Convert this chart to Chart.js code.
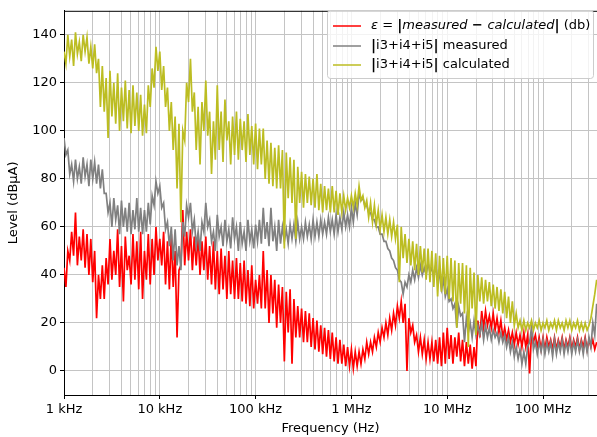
<!DOCTYPE html>
<html>
<head>
<meta charset="utf-8">
<script src="https://cdn.jsdelivr.net/npm/chart.js@4"></script>
<style>
  html, body { margin: 0; padding: 0; background: #fff; }
  canvas { display: block; }
</style>
</head>
<body>
<canvas id="levelChart" width="597" height="437"></canvas>
<script>
// частоты: декады x мантиссы (шаг 0.04 по log10, плюс промежуточные точки)
const decadeStarts = [1e3, 1e4, 1e5, 1e6, 1e7, 1e8];
const mantissas = [1.000, 1.096, 1.202, 1.318, 1.445, 1.585, 1.738, 1.905, 2.089, 2.291,
                   2.512, 2.754, 3.020, 3.311, 3.631, 3.981, 4.365, 4.786, 5.248, 5.754,
                   6.310, 6.918, 7.586, 8.318, 9.120];
const mantissasHalf = [1.047, 1.148, 1.259, 1.380, 1.514, 1.660, 1.820, 1.995, 2.188, 2.399,
                       2.630, 2.884, 3.162, 3.467, 3.802, 4.169, 4.571, 5.012, 5.495, 6.026,
                       6.607, 7.244, 7.943, 8.710, 9.550];
const xMax = 3.66e8;

const decadeLabels = ['1 kHz', '10 kHz', '100 kHz', '1 MHz', '10 MHz', '100 MHz'];

// |i3+i4+i5| calculated: верхние и нижние точки шума
const calcHi = [
    133, 140, 138, 141, 137, 140, 139, 135, 136, 130,
    127, 122, 125, 120, 124, 118, 121, 117, 119, 116,
    115, 111, 119, 126, 135, 133, 127, 118, 112, 106,
    103, 100, 120, 130, 116, 110, 112, 121, 108, 104,
    119, 108, 113, 104, 106, 108, 105, 104, 107, 102,
    103, 101, 101,  96,  95,  93,  94,  92,  91,  89,
     88,  85,  83,  82,  81,  80,  82,  78,  77,  76,
     77,  75,  74,  73,  72,  73,  74,  77,  73,  71,
     70,  69,  67,  65,  64,  63,  62,  61,  60,  57,
     55,  54,  53,  52,  51,  51,  50,  49,  48,  47,
     48,  47,  46,  45,  45,  44,  43,  41,  40,  39,
     38,  37,  36,  35,  34,  33,  31,  29,  24,  21,
     21,  20,  21,  20,  21,  20,  21,  20,  21,  21,
     20,  21,  21,  20,  21,  20,  20,  19,  27,  38
];
const calcLo = [
    128, 131, 127, 132, 129, 133, 128, 126, 124, 110,
    108,  97, 106, 103, 100, 104, 101,  99, 102, 100,
     98,  99, 110, 118, 125, 117, 110, 100,  92,  76,
     62,  96, 112, 108,  92,  86, 100,  98,  82,  88,
     92,  87,  96,  86,  90,  88,  92,  87,  90,  86,
     84,  86,  80,  78,  77,  76,  76,  51,  72,  70,
     55,  70,  68,  70,  69,  68,  67,  66,  67,  66,
     66,  65,  66,  67,  68,  68,  69,  71,  68,  64,
     62,  61,  59,  58,  57,  56,  55,  37,  47,  45,
     44,  42,  40,  41,  38,  37,  35,  31,  33,  32,
     30,  29,  18,  28,  24,  10,  26,  15,  29,  28,
     29,  27,  26,  25,  24,  22,  20,  19,  18,  17,
     17,  18,  17,  18,  17,  18,  17,  18,  17,  18,
     17,  18,  17,  18,  17,  17,  17,  22,  32
];

// |i3+i4+i5| measured
const measHi = [
     97,  92,  86,  88,  85,  89,  86,  88,  87,  86,
     84,  74,  70,  72,  69,  71,  68,  70,  67,  72,
     68,  67,  70,  73,  79,  77,  70,  62,  60,  59,
     52,  62,  69,  70,  63,  58,  62,  70,  63,  58,
     65,  60,  63,  59,  64,  60,  62,  58,  63,  59,
     61,  63,  68,  62,  68,  60,  63,  60,  59,  61,
     61,  62,  60,  62,  61,  63,  62,  63,  62,  64,
     63,  65,  64,  66,  65,  68,  70,  74,  72,  69,
     66,  63,  60,  57,  54,  50,  46,  42,  37,  37,
     40,  42,  43,  44,  43,  45,  43,  44,  40,  38,
     34,  30,  28,  27,  24,  22,  20,  21,  19,  20,
     19,  18,  17,  16,  16,  15,  14,  12,  10,   9,
      8,  10,  18,  12,  12,  13,  12,  12,  13,  12,
     13,  12,  13,  12,  13,  12,  13,  14,  20,  28
];
const measLo = [
     90,  82,  79,  80,  78,  81,  77,  80,  78,  76,
     74,  66,  60,  63,  57,  60,  58,  57,  59,  58,
     57,  58,  61,  69,  74,  68,  59,  52,  46,  44,
     42,  56,  64,  58,  52,  50,  58,  60,  54,  50,
     56,  52,  54,  51,  55,  50,  53,  50,  54,  51,
     54,  53,  55,  52,  54,  50,  53,  54,  53,  55,
     54,  55,  55,  56,  55,  56,  56,  57,  57,  58,
     57,  58,  59,  60,  60,  62,  65,  71,  69,  66,
     63,  60,  57,  54,  51,  47,  43,  38,  32,  35,
     37,  38,  39,  40,  40,  41,  39,  38,  34,  31,
     29,  26,  18,  23,  12,  16,  14,  15,  15,  13,
     14,  13,  14,  12,  12,  10,   8,   6,   5,   3,
      3,  12,   9,   7,   8,   7,   8,   6,   7,   8,
      7,   8,   7,   8,   8,   7,   8,  10,  15
];

// ε = |measured - calculated|
const epsHi = [
     43,  50,  58,  66,  56,  59,  57,  55,  50,  40,
     44,  47,  55,  50,  59,  52,  56,  48,  57,  54,
     58,  50,  57,  55,  60,  55,  58,  54,  57,  50,
     42,  67,  58,  59,  56,  57,  54,  56,  52,  54,
     50,  51,  48,  50,  46,  47,  45,  46,  42,  44,
     38,  40,  50,  42,  40,  38,  36,  35,  33,  34,
     30,  27,  26,  25,  24,  22,  21,  19,  18,  17,
     16,  14,  13,  11,  10,   9,   8,   8,   9,  12,
     12,  14,  16,  18,  20,  22,  24,  27,  29,  28,
     22,  19,  15,  14,  13,  12,  12,  13,  14,  16,
     18,  15,  14,  16,  13,  12,  11,  10,  21,  25,
     25,  23,  24,  22,  21,  18,  17,  16,  16,  15,
     16,  15,  16,  15,  14,  14,  14,  13,  14,  13,
     14,  13,  14,  13,  14,  13,  14,  13,  13,  12
];
const epsLo = [
     35,  46,  48,  44,  46,  43,  40,  37,  22,  30,
     30,  36,  38,  40,  35,  29,  42,  36,  38,  34,
     30,  38,  36,  40,  46,  44,  36,  34,  35,  14,
     44,  44,  46,  42,  44,  40,  42,  38,  36,  34,
     32,  34,  30,  32,  30,  30,  29,  28,  27,  26,
     28,  26,  26,  20,  24,  18,  20,   4,  16,   3,
     14,  14,  12,  12,  10,   9,   8,   7,   6,   5,
      4,   3,   3,   2,   2,   1,   2,   3,   5,   7,
      8,  10,  12,  14,  15,  17,  19,  22,  20,   0,
     16,  12,   8,   7,   5,   5,   4,   3,   2,   3,
      5,   3,   6,   4,   2,   3,   1,   2,  14,  18,
     19,  18,  17,  16,  14,  13,  12,  11,  11,  10,
     10,  -1,  12,  10,   9,   9,  10,   9,   9,  10,
      9,  10,   9,  10,   9,  10,   9,  10,   9
];

const yTicks = [0, 20, 40, 60, 80, 100, 120, 140];

// таблицы частот
const freqs = [];
const freqsHalf = [];
decadeStarts.forEach(d => {
    mantissas.forEach(m => { if (freqs.length < calcHi.length) freqs.push(d * m); });
    mantissasHalf.forEach(m => { if (freqsHalf.length < calcLo.length) freqsHalf.push(d * m); });
});

const xTicks = [];
decadeStarts.forEach(d => {
    for (let k = 1; k <= 9; k++) if (d * k <= xMax) xTicks.push(d * k);
});

// чередуем верхние и нижние точки
const toPoints = (hi, lo) => {
    const pts = [];
    hi.forEach((v, i) => {
        pts.push({ x: freqs[i], y: v });
        if (i < lo.length) pts.push({ x: freqsHalf[i], y: lo[i] });
    });
    return pts;
};

const FONT = "'DejaVu Sans', sans-serif";
const colors = { eps: '#ff0000', meas: '#808080', calc: '#bcbd22' };

// легенда и верхняя рамка
const legendPlugin = {
    id: 'boxLegend',
    afterDraw(chart) {
        const ctx = chart.ctx;
        const a = chart.chartArea;
        ctx.save();
        ctx.strokeStyle = '#000';
        ctx.lineWidth = 1;
        ctx.beginPath();
        ctx.moveTo(a.left, a.top + 0.5);
        ctx.lineTo(a.right, a.top + 0.5);
        ctx.stroke();

        const bx = 327.5, by = 10.5, bw = 266, bh = 68;
        ctx.fillStyle = 'rgba(255,255,255,0.8)';
        ctx.strokeStyle = '#cccccc';
        ctx.beginPath();
        ctx.roundRect(bx, by, bw, bh, 3);
        ctx.fill();
        ctx.stroke();

        const rows = [
            { color: colors.eps, y: 26 },
            { color: colors.meas, y: 46 },
            { color: colors.calc, y: 65 }
        ];
        rows.forEach(r => {
            ctx.strokeStyle = r.color;
            ctx.lineWidth = 1.5;
            ctx.beginPath();
            ctx.moveTo(333, r.y);
            ctx.lineTo(361, r.y);
            ctx.stroke();
        });

        ctx.fillStyle = '#000';
        ctx.textBaseline = 'middle';
        const parts = [
            ['italic 13px ' + FONT, 'ε'],
            ['13px ' + FONT, ' = '],
            ['bold 14px ' + FONT, '|'],
            ['italic 13px ' + FONT, 'measured'],
            ['bold 13px ' + FONT, ' − '],
            ['italic 13px ' + FONT, 'calculated'],
            ['bold 14px ' + FONT, '|'],
            ['13px ' + FONT, ' (db)']
        ];
        let x = 371;
        parts.forEach(p => {
            ctx.font = p[0];
            ctx.fillText(p[1], x, 26);
            x += ctx.measureText(p[1]).width;
        });
        const simple = [[' measured', 46], [' calculated', 65]];
        simple.forEach(s => {
            let xx = 371;
            ctx.font = 'bold 14px ' + FONT;
            ctx.fillText('|', xx, s[1]);
            xx += ctx.measureText('|').width;
            ctx.font = '13px ' + FONT;
            ctx.fillText('i3+i4+i5', xx, s[1]);
            xx += ctx.measureText('i3+i4+i5').width;
            ctx.font = 'bold 14px ' + FONT;
            ctx.fillText('|', xx, s[1]);
            xx += ctx.measureText('|').width;
            ctx.font = '13px ' + FONT;
            ctx.fillText(s[0], xx, s[1]);
        });
        ctx.restore();
    }
};

const ctx = document.getElementById('levelChart').getContext('2d');
new Chart(ctx, {
    type: 'line',
    data: {
        datasets: [
            {
                label: 'ε = |measured − calculated| (db)',
                data: toPoints(epsHi, epsLo),
                borderColor: colors.eps,
                borderWidth: 1.7,
                pointRadius: 0,
                tension: 0,
                order: 3
            },
            {
                label: '|i3+i4+i5| measured',
                data: toPoints(measHi, measLo),
                borderColor: colors.meas,
                borderWidth: 1.7,
                pointRadius: 0,
                tension: 0,
                order: 2
            },
            {
                label: '|i3+i4+i5| calculated',
                data: toPoints(calcHi, calcLo),
                borderColor: colors.calc,
                borderWidth: 1.7,
                pointRadius: 0,
                tension: 0,
                order: 1
            }
        ]
    },
    options: {
        responsive: false,
        devicePixelRatio: 1,
        animation: false,
        layout: { padding: { top: 7, right: 0, left: 0, bottom: 0 } },
        plugins: {
            legend: { display: false },
            tooltip: { enabled: false }
        },
        scales: {
            x: {
                type: 'logarithmic',
                min: 1000,
                max: xMax,
                afterBuildTicks: s => { s.ticks = xTicks.map(v => ({ value: v })); },
                afterFit: s => { s.height = 42; },
                ticks: {
                    autoSkip: false,
                    maxRotation: 0,
                    color: '#000',
                    padding: 3,
                    font: { family: FONT, size: 13 },
                    callback: v => {
                        const i = decadeStarts.indexOf(v);
                        return i >= 0 ? decadeLabels[i] : '';
                    }
                },
                grid: {
                    color: '#c4c4c4',
                    lineWidth: 1,
                    tickLength: 4,
                    tickColor: c => (c.tick && decadeStarts.includes(c.tick.value)) ? '#000' : 'rgba(0,0,0,0)'
                },
                border: { display: true, color: '#000', width: 1 },
                title: {
                    display: true,
                    text: 'Frequency (Hz)',
                    color: '#000',
                    font: { family: FONT, size: 13 },
                    padding: { top: 0, bottom: 1 }
                }
            },
            y: {
                min: -10,
                max: 150,
                afterBuildTicks: s => { s.ticks = yTicks.map(v => ({ value: v })); },
                afterFit: s => { s.width = 64; },
                ticks: {
                    color: '#000',
                    padding: 3,
                    font: { family: FONT, size: 13 }
                },
                grid: {
                    color: '#c4c4c4',
                    lineWidth: 1,
                    tickLength: 4,
                    tickColor: '#000'
                },
                border: { display: true, color: '#000', width: 1 },
                title: {
                    display: true,
                    text: 'Level (dBμA)',
                    color: '#000',
                    font: { family: FONT, size: 13 },
                    padding: { top: 6, bottom: 0 }
                }
            }
        }
    },
    plugins: [legendPlugin]
});
</script>
</body>
</html>
